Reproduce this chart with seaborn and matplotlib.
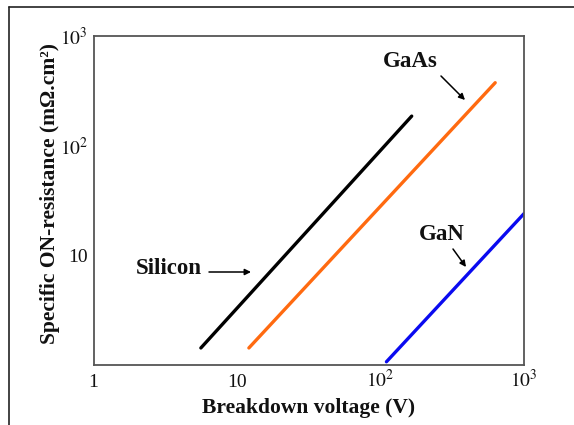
import numpy as np
import pandas as pd
import matplotlib
matplotlib.use("Agg")
import matplotlib.pyplot as plt
from matplotlib.lines import Line2D
import seaborn as sns

# Data (log-log)
materials = ["Silicon", "GaAs", "GaN"]
si_voltage = [5.6, 165]
si_resistance = [1.43, 186]
gaas_voltage = [12.1, 630]
gaas_resistance = [1.43, 375]
gan_voltage = [110, 1000]
gan_resistance = [1.07, 24]
colors = ["#000000", "#ff6a10", "#0a0af0"]
x_ticks = [1, 10, 100, 1000]
x_tick_labels = ["1", "10", "$10^2$", "$10^3$"]
y_ticks = [10, 100, 1000]
y_tick_labels = ["10", "$10^2$", "$10^3$"]

df = pd.DataFrame({
    "material": ["Silicon"] * 2 + ["GaAs"] * 2 + ["GaN"] * 2,
    "voltage": si_voltage + gaas_voltage + gan_voltage,
    "resistance": si_resistance + gaas_resistance + gan_resistance,
})

sns.set_theme(style="white")
plt.rcParams["font.family"] = ["Liberation Serif", "DejaVu Serif"]
plt.rcParams["mathtext.fontset"] = "stix"

fig = plt.figure(figsize=(5.74, 4.25), dpi=100)
W, H = 574, 425
L, R, T, B = 93.5, 524, 36, 365
ax = fig.add_axes([L / W, 1 - B / H, (R - L) / W, (B - T) / H])

sns.lineplot(data=df, x="voltage", y="resistance", hue="material",
             hue_order=materials, palette=colors, linewidth=2.4,
             legend=False, ax=ax, estimator=None, sort=False)

ax.set_xscale("log")
ax.set_yscale("log")
ax.set_xlim(1, 1000)
ax.set_ylim(1, 1000)
ax.minorticks_off()
ax.set_xticks(x_ticks)
ax.set_xticklabels(x_tick_labels)
ax.set_yticks(y_ticks)
ax.set_yticklabels(y_tick_labels)
ax.tick_params(axis="both", which="major", direction="in", length=8,
               width=1.0, color="#333333", labelsize=14, labelcolor="#111111")
ax.tick_params(axis="x", pad=16)
ax.tick_params(axis="y", pad=4)
for lab in ax.get_xticklabels():
    lab.set_verticalalignment("baseline")
for s in ax.spines.values():
    s.set_color("#555555")
    s.set_linewidth(1.3)

ax.set_xlabel("Breakdown voltage (V)", fontsize=15.5, fontweight="bold", color="#111111")
ax.set_ylabel("Specific ON-resistance (mΩ.cm²)", fontsize=15.5, fontweight="bold", color="#111111")
ax.xaxis.set_label_coords(0.5, -0.10)
ax.yaxis.set_label_coords(-0.078, 0.52)

def fx(px):
    return (px - L) / (R - L)

def fy(py):
    return (B - py) / (B - T)

arrow = dict(arrowstyle="-|>", color="black", lw=1.1, mutation_scale=9, shrinkA=0, shrinkB=0)
# GaAs
ax.text(fx(410), fy(62), "GaAs", transform=ax.transAxes, ha="center", va="center",
        fontsize=16.5, fontweight="bold", color="#111111")
ax.annotate("", xy=(fx(465), fy(100)), xytext=(fx(441), fy(76)),
            xycoords="axes fraction", textcoords="axes fraction", arrowprops=arrow)
# Silicon
ax.text(fx(169), fy(269), "Silicon", transform=ax.transAxes, ha="center", va="center",
        fontsize=16.5, fontweight="bold", color="#111111")
ax.annotate("", xy=(fx(251), fy(272)), xytext=(fx(209), fy(272)),
            xycoords="axes fraction", textcoords="axes fraction", arrowprops=arrow)
# GaN
ax.text(fx(442), fy(235), "GaN", transform=ax.transAxes, ha="center", va="center",
        fontsize=16.5, fontweight="bold", color="#111111")
ax.annotate("", xy=(fx(466), fy(267)), xytext=(fx(453), fy(249)),
            xycoords="axes fraction", textcoords="axes fraction", arrowprops=arrow)

# outer frame (top and left edges visible)
fig.add_artist(Line2D([9 / W, 1.0], [1 - 7 / H, 1 - 7 / H], transform=fig.transFigure,
                      color="#222222", lw=1.2))
fig.add_artist(Line2D([9 / W, 9 / W], [0.0, 1 - 7 / H], transform=fig.transFigure,
                      color="#222222", lw=1.2))

fig.savefig("out.png", dpi=100)
